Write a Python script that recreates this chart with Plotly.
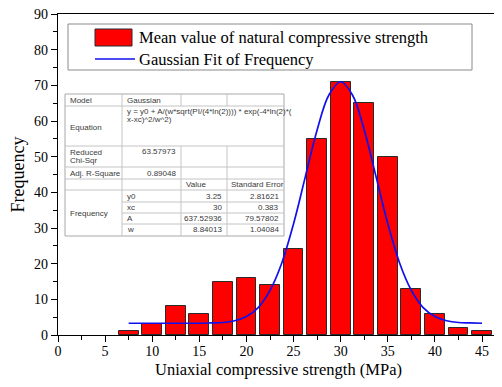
import plotly.graph_objects as go

# ---------------- data ----------------
bin_centers = [7.5, 10, 12.5, 15, 17.5, 20, 22.5, 25, 27.5, 30, 32.5, 35, 37.5, 40, 42.5, 45]
frequency = [1, 3, 8, 6, 15, 16, 14, 24, 55, 71, 65, 50, 13, 6, 2, 1]

fit_x = [7.5, 8.75, 10, 11.25, 12.5, 13.75, 15, 16.25, 17.5, 18.75, 20, 21.25, 22.5,
         23.75, 25, 26.25, 27.5, 28.75, 30, 31.25, 32.5, 33.75, 35, 36.25, 37.5,
         38.75, 40, 41.25, 42.5, 43.75, 45]
fit_y = [3.3, 3.3, 3.3, 3.3, 3.3, 3.3, 3.3, 3.4, 3.5, 4.0, 5.2, 7.7, 12.5,
         20.2, 31.2, 44.4, 57.5, 67.3, 71.0, 67.3, 57.5, 44.4, 31.2, 20.2, 12.5,
         7.7, 5.2, 4.0, 3.5, 3.4, 3.3]

x_ticks = [0, 5, 10, 15, 20, 25, 30, 35, 40, 45]
y_ticks = [0, 10, 20, 30, 40, 50, 60, 70, 80, 90]

bar_name = "Mean value of natural compressive strength"
fit_name = "Gaussian Fit of Frequency"

# fit statistics table
fit_model = "Gaussian"
fit_equation = ["y = y0 + A/(w*sqrt(PI/(4*ln(2)))) * exp(-4*ln(2)*(", "x-xc)^2/w^2)"]
reduced_chisqr = "63.57973"
adj_r_square = "0.89048"
param_names = ["y0", "xc", "A", "w"]
param_values = ["3.25", "30", "637.52936", "8.84013"]
param_errors = ["2.81621", "0.383", "79.57802", "1.04084"]

# ---------------- figure ----------------
# the page places the figure 8px in from the top-left corner (body margin)
OFF = 8
W, H = 502 - OFF, 387 - OFF
PL, PT, PR, PB = 58, 14, 499, 335          # plot area in page pixels
ML, MT = PL - OFF, PT - OFF
MR, MB = (OFF + W) - PR, (OFF + H) - PB
PW, PH = PR - PL, PB - PT


def px(x):
    return (x - PL) / PW


def py(y):
    return (PB - y) / PH


fig = go.Figure()
fig.add_trace(go.Bar(
    x=bin_centers, y=frequency, width=2.1, name=bar_name,
    marker=dict(color="#ff0000", line=dict(color="#2a2a2a", width=1)),
    showlegend=False,
))
fig.add_trace(go.Scatter(
    x=fit_x, y=fit_y, mode="lines", name=fit_name, line_shape="spline",
    line=dict(color="#1010ee", width=1.7), showlegend=False,
))

shapes = []
annots = []

# ---- manual legend ----
shapes.append(dict(type="rect", xref="paper", yref="paper",
                   x0=px(68), x1=px(472), y0=py(70), y1=py(24),
                   line=dict(color="#8a8a8a", width=1), fillcolor="white", layer="above"))
shapes.append(dict(type="rect", xref="paper", yref="paper",
                   x0=px(95), x1=px(132), y0=py(46), y1=py(29),
                   line=dict(color="#2a2a2a", width=1), fillcolor="#ff0000", layer="above"))
shapes.append(dict(type="line", xref="paper", yref="paper",
                   x0=px(95), x1=px(135), y0=py(59), y1=py(59),
                   line=dict(color="#1010ee", width=1.7), layer="above"))
annots.append(dict(text=bar_name, xref="paper", yref="paper", x=px(137), y=py(37),
                   xanchor="left", yanchor="middle", showarrow=False,
                   font=dict(family="Liberation Serif", size=16.5, color="black")))
annots.append(dict(text=fit_name, xref="paper", yref="paper", x=px(137), y=py(59),
                   xanchor="left", yanchor="middle", showarrow=False,
                   font=dict(family="Liberation Serif", size=16.5, color="black")))

# ---- statistics table ----
grid = "#c4c4c4"
cx = [65, 122, 181, 227, 284]
shapes.append(dict(type="rect", xref="paper", yref="paper",
                   x0=px(cx[0]), x1=px(cx[4]), y0=py(236), y1=py(94),
                   line=dict(color="#a8a8a8", width=1), fillcolor="white", layer="above"))


def hline(y, x0, x1):
    shapes.append(dict(type="line", xref="paper", yref="paper", x0=px(x0), x1=px(x1),
                       y0=py(y), y1=py(y), line=dict(color=grid, width=1), layer="above"))


def vline(x, y0, y1):
    shapes.append(dict(type="line", xref="paper", yref="paper", x0=px(x), x1=px(x),
                       y0=py(y0), y1=py(y1), line=dict(color=grid, width=1), layer="above"))


for y in [106, 146, 167, 179, 190]:
    hline(y, cx[0], cx[4])
for y in [202, 213, 224]:
    hline(y, cx[1], cx[4])
vline(cx[1], 94, 236)
for x in [cx[2], cx[3]]:
    vline(x, 94, 106)
    vline(x, 146, 236)

tfont = dict(family="Liberation Sans", size=8, color="#3a3a3a")


def cell(text, x, y, anchor="left"):
    annots.append(dict(text=text, xref="paper", yref="paper", x=px(x), y=py(y),
                       xanchor=anchor, yanchor="middle", showarrow=False, font=tfont))


cell("Model", 68, 100)
cell(fit_model, 125, 100)
cell("Equation", 68, 127)
cell(fit_equation[0], 125, 111)
cell(fit_equation[1], 125, 119.5)
cell("Reduced", 68, 152.5)
cell("Chi-Sqr", 68, 160.5)
cell(reduced_chisqr, 178, 151.5, "right")
cell("Adj. R-Square", 68, 173)
cell(adj_r_square, 178, 173, "right")
cell("Value", 184, 184.5)
cell("Standard Error", 229, 184.5)
cell("Frequency", 68, 213)
for i, (n, v, e) in enumerate(zip(param_names, param_values, param_errors)):
    yy = 196 + i * 11.3
    cell(n, 125, yy)
    cell(v, 224, yy, "right")
    cell(e, 281, yy, "right")

fig.update_layout(
    width=W, height=H,
    margin=dict(l=ML, r=MR, t=MT, b=MB, pad=0, autoexpand=False),
    paper_bgcolor="white", plot_bgcolor="white",
    bargap=0,
    shapes=shapes, annotations=annots,
    font=dict(family="Liberation Serif", color="black"),
    xaxis=dict(
        range=[0, 46.8], tickvals=x_ticks, ticktext=[str(v) for v in x_ticks],
        showgrid=False, zeroline=False, automargin=False,
        showline=True, linecolor="black", linewidth=1.3, mirror=True,
        ticks="outside", ticklen=6, tickwidth=1.2, tickcolor="black",
        ticklabeloverflow="allow", ticklabelstandoff=-3,
        tickfont=dict(family="Liberation Serif", size=14, color="black"),
        minor=dict(dtick=2.5, tick0=0, ticks="outside", ticklen=4, tickwidth=1, tickcolor="black"),
        title=dict(text="Uniaxial compressive strength (MPa)", standoff=5,
                   font=dict(family="Liberation Serif", size=16.5, color="black")),
    ),
    yaxis=dict(
        range=[0, 90], tickvals=y_ticks, ticktext=[str(v) for v in y_ticks],
        showgrid=False, zeroline=False, automargin=False,
        showline=True, linecolor="black", linewidth=1.3, mirror=False,
        ticks="outside", ticklen=6, tickwidth=1.2, tickcolor="black",
        ticklabeloverflow="allow",
        tickfont=dict(family="Liberation Serif", size=14, color="black"),
        minor=dict(dtick=5, tick0=0, ticks="outside", ticklen=4, tickwidth=1, tickcolor="black"),
        title=dict(text="Frequency", standoff=6,
                   font=dict(family="Liberation Serif", size=18, color="black")),
    ),
)

fig.write_html("out.html")
